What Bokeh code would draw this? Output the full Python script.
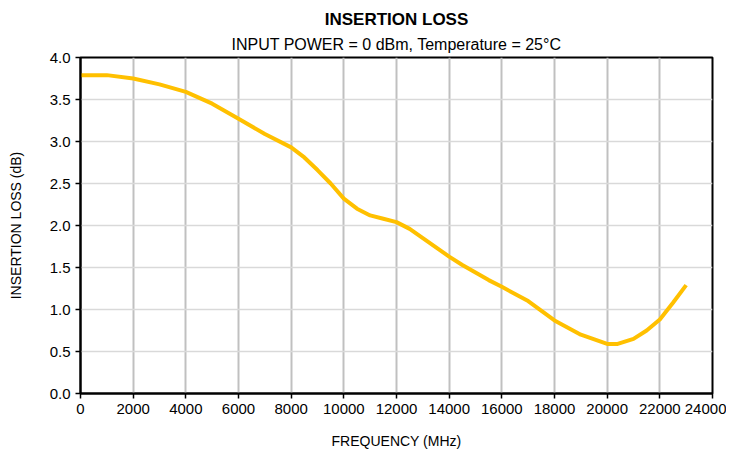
from bokeh.plotting import figure
from bokeh.models import FixedTicker, Title, NumeralTickFormatter, Range1d
from bokeh.embed import file_html
from bokeh.resources import INLINE

freq_mhz = [0, 1000, 2000, 3000, 4000, 5000, 6000, 7000, 8000, 8500, 9000, 9500,
            10000, 10500, 11000, 11500, 12000, 12500, 13000, 13500, 14000, 14500,
            15000, 15500, 16000, 17000, 18000, 19000, 20000, 20400, 21000, 21500, 22000,
            22500, 23000]
insertion_loss_db = [3.79, 3.79, 3.75, 3.68, 3.59, 3.45, 3.27, 3.09, 2.93, 2.81, 2.66, 2.50,
                     2.32, 2.20, 2.12, 2.08, 2.04, 1.96, 1.85, 1.74, 1.63, 1.53,
                     1.44, 1.35, 1.27, 1.10, 0.87, 0.70, 0.59, 0.59, 0.65, 0.75, 0.88,
                     1.08, 1.29]
x_ticks = list(range(0, 24001, 2000))
y_ticks = [0.0, 0.5, 1.0, 1.5, 2.0, 2.5, 3.0, 3.5, 4.0]

FONT = "Liberation Sans"

p = figure(frame_width=632, frame_height=336, output_backend="svg", toolbar_location=None,
           x_range=Range1d(0, 24000), y_range=Range1d(0, 4),
           min_border_left=80, min_border_right=14, min_border_top=57, min_border_bottom=10)

p.title.text = "INSERTION LOSS"
p.title.text_font = FONT
p.title.text_font_size = "17px"
p.title.text_font_style = "bold"
p.title.align = "center"
p.title.text_color = "black"
p.title.standoff = 0
p.add_layout(Title(text="INPUT POWER = 0 dBm, Temperature = 25°C", text_font=FONT,
                   text_font_size="16px", text_font_style="normal", align="center",
                   text_color="black", standoff=10), "above")

p.line(freq_mhz, insertion_loss_db, line_color="#FFC000", line_width=4, line_join="round")

p.xaxis.ticker = FixedTicker(ticks=x_ticks)
p.yaxis.ticker = FixedTicker(ticks=y_ticks)
p.xaxis.formatter = NumeralTickFormatter(format="0")
p.yaxis.formatter = NumeralTickFormatter(format="0.0")
p.xaxis.axis_label = "FREQUENCY (MHz)"
p.yaxis.axis_label = "INSERTION LOSS (dB)"
for ax in (p.xaxis, p.yaxis):
    ax.axis_label_text_font = FONT
    ax.axis_label_text_font_size = "14px"
    ax.axis_label_text_font_style = "normal"
    ax.axis_label_text_color = "black"
    ax.major_label_text_font = FONT
    ax.major_label_text_font_size = "15px"
    ax.major_label_text_color = "black"
    ax.axis_line_color = "black"
    ax.axis_line_width = 2
    ax.major_tick_line_color = "black"
    ax.major_tick_line_width = 1.5
    ax.major_tick_out = 5
    ax.major_tick_in = 0
    ax.minor_tick_line_color = None
p.xaxis.axis_label_standoff = 16
p.yaxis.axis_label_standoff = 23

p.xgrid.grid_line_color = "#c0c0c0"
p.xgrid.grid_line_width = 2
p.ygrid.grid_line_color = "#d9d9d9"
p.ygrid.grid_line_width = 1.5

p.outline_line_color = "black"
p.outline_line_width = 2
p.background_fill_color = "white"
p.border_fill_color = "white"

open("out.html", "w").write(file_html(p, INLINE))
